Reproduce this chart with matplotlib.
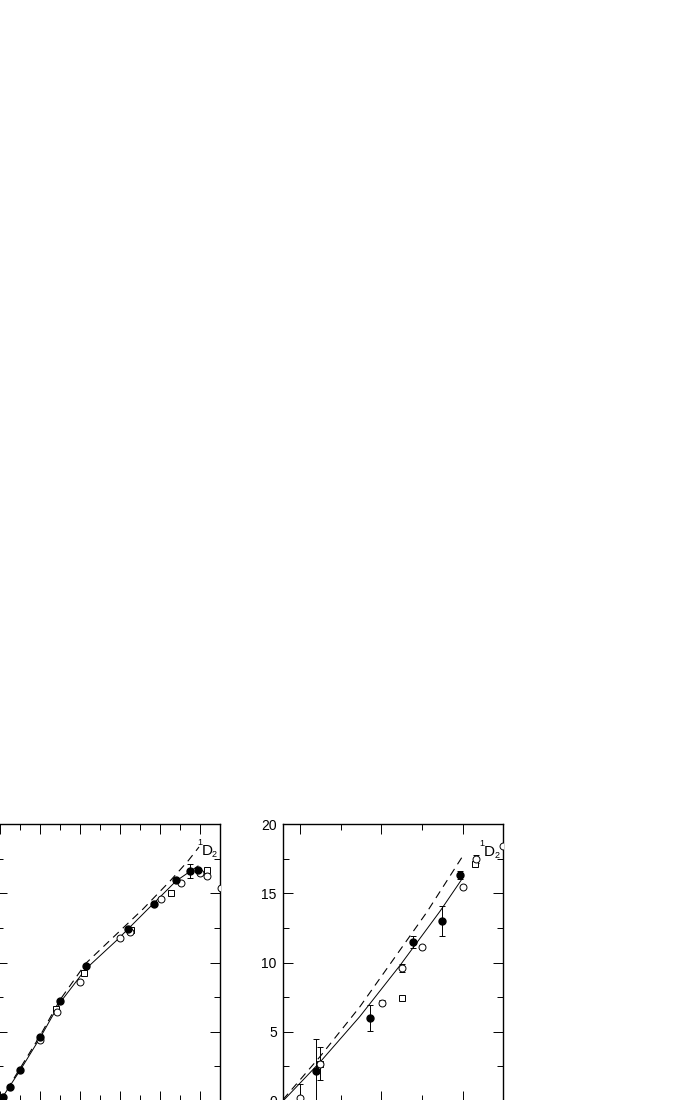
import matplotlib.pyplot as plt
from matplotlib.ticker import MultipleLocator

plt.rcParams['font.family'] = ['Liberation Sans Narrow', 'Liberation Sans', 'DejaVu Sans']

# left panel data (x in tick units, y 0..20)
left_fill_x = [0.165, 0.5, 1.0, 2.0, 3.0, 4.3, 6.4, 7.7, 8.8, 9.5, 9.9]
left_fill_y = [0.31, 1.03, 2.24, 4.62, 7.22, 9.75, 12.42, 14.22, 15.96, 16.61, 16.71]
left_fill_err = [0, 0, 0, 0, 0, 0, 0, 0, 0, 0.5, 0]
left_open_x = [2.0, 2.85, 4.0, 6.0, 6.5, 8.03, 9.05, 10.0, 10.33, 11.05]
left_open_y = [4.37, 6.45, 8.61, 11.77, 12.2, 14.61, 15.74, 16.46, 16.22, 15.36]
left_sq_x = [2.8, 4.2, 6.55, 8.53, 10.37]
left_sq_y = [6.64, 9.24, 12.35, 15.02, 16.7]
left_solid_x = [0, 1, 2, 3.0, 4.3, 5.85, 7.35, 8.8, 9.9]
left_solid_y = [0, 2.2, 4.55, 7.1, 9.55, 11.62, 13.79, 15.88, 16.97]
left_dash_x = [0, 1, 2, 3.0, 4.3, 5.5, 7.15, 8.5, 9.4, 9.95]
left_dash_y = [0, 2.35, 4.7, 7.3, 9.95, 11.6, 13.86, 15.88, 17.33, 18.34]

# right panel data
right_fill_x = [0.39, 1.72, 2.78, 3.50, 3.92]
right_fill_y = [2.2, 6.01, 11.5, 13.0, 16.32]
right_fill_err = [2.3, 0.94, 0.42, 1.1, 0.3]
right_open_x = [0.0, 0.49, 2.01, 2.5, 3.0, 4.0, 4.32, 4.99]
right_open_y = [0.2, 2.69, 7.1, 9.62, 11.14, 15.47, 17.47, 18.43]
right_open_err = [1.0, 1.2, 0.2, 0.28, 0, 0, 0.3, 0]
right_sq_x = [0.49, 2.5, 4.30]
right_sq_y = [2.67, 7.46, 17.11]
right_solid_x = [-0.418, 0.49, 1.47, 2.46, 3.44, 3.98]
right_solid_y = [0, 2.8, 6.1, 9.8, 13.7, 16.03]
right_dash_x = [-0.418, 0.49, 1.47, 3.12, 3.98]
right_dash_y = [0.1, 3.2, 6.8, 13.65, 17.6]

W, H = 680.0, 1100.0
fig = plt.figure(figsize=(6.8, 11), dpi=100)
axL = fig.add_axes([-3 / W, -1 / H, 223 / W, 277 / H])
axR = fig.add_axes([283 / W, -1 / H, 220 / W, 277 / H])


def errbars(ax, xs, ys, es):
    pts = [(x, y, e) for x, y, e in zip(xs, ys, es) if e > 0]
    if pts:
        ax.errorbar([p[0] for p in pts], [p[1] for p in pts], yerr=[p[2] for p in pts],
                    fmt='none', ecolor='black', elinewidth=0.7, capsize=2.2, capthick=0.7, zorder=3)


def draw(ax, sx, sy, dx, dy, fx, fy, fe, ox, oy, oe, qx, qy):
    ax.plot(sx, sy, color='black', lw=0.7, zorder=2)
    ax.plot(dx, dy, color='black', lw=0.8, linestyle=(0, (7, 5)), zorder=2)
    errbars(ax, fx, fy, fe)
    errbars(ax, ox, oy, oe)
    ax.plot(qx, qy, 's', ms=4.5, mfc='white', mec='black', mew=0.7, zorder=4)
    ax.plot(ox, oy, 'o', ms=5, mfc='white', mec='black', mew=0.7, zorder=5)
    ax.plot(fx, fy, 'o', ms=5, mfc='black', mec='black', zorder=6)
    ax.set_ylim(0, 20)
    ax.xaxis.set_major_locator(MultipleLocator(2))
    ax.xaxis.set_minor_locator(MultipleLocator(1))
    ax.yaxis.set_major_locator(MultipleLocator(5))
    ax.yaxis.set_minor_locator(MultipleLocator(2.5))
    # x labels lie below the visible part of the page
    ax.tick_params(which='both', direction='in', top=True, right=True, labelsize=10,
                   width=0.7, pad=4.5, labelbottom=False)
    ax.tick_params(which='major', length=7.5)
    ax.tick_params(which='minor', length=4)
    for s in ax.spines.values():
        s.set_linewidth(1.0)


def label(ax, x, y):
    ax.text(x, y, '1', fontsize=6.5, ha='left', va='bottom')
    ax.annotate('D', (x, y), xytext=(3.2, -6), textcoords='offset points',
                fontsize=11, ha='left', va='baseline')
    ax.annotate('2', (x, y), xytext=(10.8, -7.5), textcoords='offset points',
                fontsize=6.5, ha='left', va='baseline')


draw(axL, left_solid_x, left_solid_y, left_dash_x, left_dash_y,
     left_fill_x, left_fill_y, left_fill_err,
     left_open_x, left_open_y, [0] * len(left_open_x), left_sq_x, left_sq_y)
axL.set_xlim(-0.15, 11.0)
axL.tick_params(labelleft=False)
label(axL, 9.85, 18.35)

draw(axR, right_solid_x, right_solid_y, right_dash_x, right_dash_y,
     right_fill_x, right_fill_y, right_fill_err,
     right_open_x, right_open_y, right_open_err, right_sq_x, right_sq_y)
axR.set_xlim(-0.418, 4.988)
label(axR, 4.4, 18.3)

fig.savefig('out.png', dpi=100)
